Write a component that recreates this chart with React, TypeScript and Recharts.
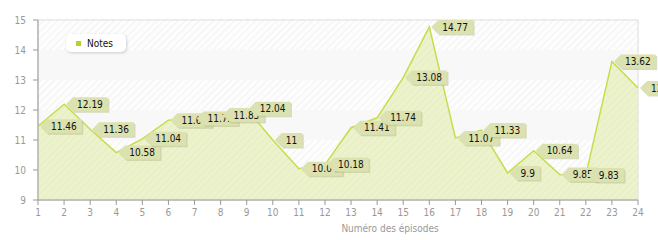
import {
  Area,
  CartesianGrid,
  ComposedChart,
  LabelList,
  ReferenceArea,
  XAxis,
  YAxis,
} from "recharts";

const episodes = [1, 2, 3, 4, 5, 6, 7, 8, 9, 10, 11, 12, 13, 14, 15, 16, 17, 18, 19, 20, 21, 22, 23, 24];
const notes = [
  11.46, 12.19, 11.36, 10.58, 11.04, 11.66, 11.72, 11.83, 12.04, 11, 10.04, 10.18,
  11.41, 11.74, 13.08, 14.77, 11.07, 11.33, 9.9, 10.64, 9.85, 9.83, 13.62, 12.73,
];
const yTicks = [9, 10, 11, 12, 13, 14, 15];
const hatchedBands = [
  [14, 15],
  [12, 13],
  [10, 11],
];
const plainBands = [
  [13, 14],
  [11, 12],
  [9, 10],
];

const data = episodes.map((ep, i) => ({ ep, note: notes[i] }));

const FONT = "'DejaVu Sans Condensed', 'DejaVu Sans', sans-serif";

let ctx: CanvasRenderingContext2D | null = null;
function measure(text: string) {
  if (!ctx) ctx = document.createElement("canvas").getContext("2d");
  if (!ctx) return text.length * 5.6;
  ctx.font = `10px ${FONT}`;
  return ctx.measureText(text).width;
}

function NoteLabel(props: any) {
  const { x, y, value } = props;
  if (x == null || y == null) return null;
  const text = String(value);
  const w = measure(text) + 9;
  const h = 14;
  const bx = x + 9;
  const top = y - h / 2;
  const pts = (dx: number, dy: number) =>
    `${x + 2 + dx},${y + dy} ${bx + dx},${top + dy} ${bx + w + dx},${top + dy} ${bx + w + dx},${top + h + dy} ${bx + dx},${top + h + dy}`;
  return (
    <g>
      <polygon points={pts(1.5, 1.5)} fill="#b9c08a" opacity={0.55} />
      <polygon points={pts(0, 0)} fill="#dbe2b0" />
      <text x={bx + 4} y={y + 3.6} fontSize={10} fontFamily={FONT} fill="#111">
        {text}
      </text>
    </g>
  );
}

// legend box drawn as plain html over the plot
function LegendBox() {
  return (
    <div
      style={{
        position: "absolute",
        left: 66,
        top: 34,
        width: 60,
        height: 18,
        background: "#fff",
        borderRadius: 5,
        boxShadow: "1px 1px 3px rgba(0,0,0,0.18)",
        display: "flex",
        alignItems: "center",
        fontFamily: FONT,
        fontSize: 10,
        color: "#111",
        boxSizing: "border-box",
        paddingLeft: 10,
      }}
    >
      <span style={{ width: 5, height: 5, background: "#b6d232", marginRight: 6, display: "inline-block" }} />
      Notes
    </div>
  );
}

export default function App() {
  return (
    <div style={{ width: 658, height: 240, position: "relative" }}>
      <style>{`body{margin:0}`}</style>
      <ComposedChart
        width={658}
        height={240}
        data={data}
        margin={{ top: 20, right: 20, bottom: 0, left: 0 }}
        style={{ fontFamily: FONT }}
      >
        <defs>
          <pattern id="bgHatch" width="5" height="5" patternUnits="userSpaceOnUse" patternTransform="rotate(45)">
            <rect width="5" height="5" fill="#fdfdfd" />
            <line x1="0" y1="0" x2="0" y2="5" stroke="#ececec" strokeWidth="1.2" />
          </pattern>
          <pattern id="areaHatch" width="5" height="5" patternUnits="userSpaceOnUse" patternTransform="rotate(45)">
            <rect width="5" height="5" fill="#e9f1c4" />
            <line x1="0" y1="0" x2="0" y2="5" stroke="#dfe9b3" strokeWidth="1.2" />
          </pattern>
        </defs>
        {hatchedBands.map(([a, b]) => (
          <ReferenceArea key={`h${a}`} x1={1} x2={24} y1={a} y2={b} fill="url(#bgHatch)" fillOpacity={1} stroke="none" />
        ))}
        {plainBands.map(([a, b]) => (
          <ReferenceArea key={`p${a}`} x1={1} x2={24} y1={a} y2={b} fill="#f8f8f8" fillOpacity={1} stroke="none" />
        ))}
        <CartesianGrid stroke="#e2e2e2" strokeDasharray="5 4" />
        <ReferenceArea x1={1} x2={24} y1={9} y2={15} fill="none" stroke="#e0e0e0" />
        <XAxis
          dataKey="ep"
          type="number"
          domain={[1, 24]}
          ticks={episodes}
          interval={0}
          height={40}
          stroke="#999"
          tickSize={5}
          tickMargin={4}
          tick={{ fill: "#999", fontSize: 10, fontFamily: FONT }}
          label={{
            value: "Numéro des épisodes",
            position: "insideBottom",
            offset: 8,
            dx: 52,
            fill: "#999",
            fontSize: 10,
            fontFamily: FONT,
          }}
        />
        <YAxis
          type="number"
          domain={[9, 15]}
          ticks={yTicks}
          width={38}
          stroke="#999"
          tickSize={5}
          tickMargin={7}
          tick={{ fill: "#999", fontSize: 10, fontFamily: FONT }}
        />
        <Area
          dataKey="note"
          name="Notes"
          type="linear"
          stroke="#c6dd4a"
          strokeWidth={1.5}
          fill="url(#areaHatch)"
          fillOpacity={0.85}
          baseValue={9}
          dot={false}
          activeDot={false}
          isAnimationActive={false}
        >
          <LabelList dataKey="note" content={<NoteLabel />} />
        </Area>
      </ComposedChart>
      <LegendBox />
    </div>
  );
}
